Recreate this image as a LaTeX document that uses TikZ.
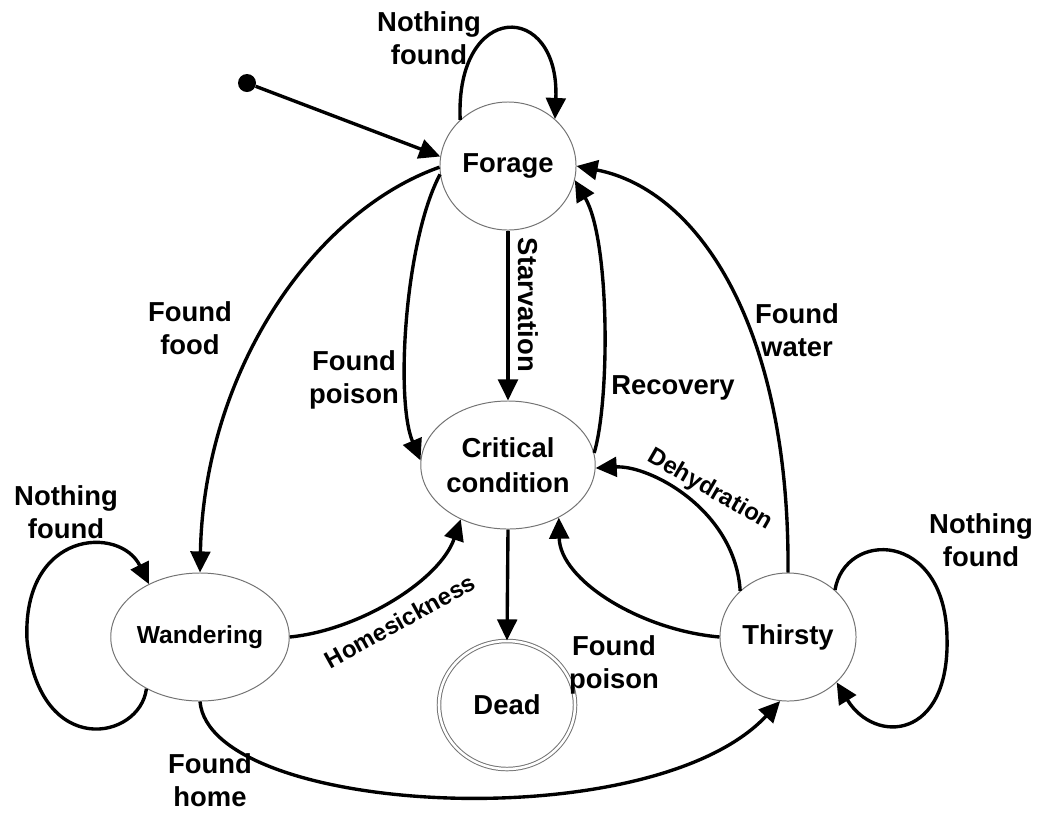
\documentclass[tikz,border=0pt]{standalone}
\usepackage{fontspec}
\setmainfont{Liberation Sans}
\usetikzlibrary{arrows.meta,shapes.geometric}
\begin{document}
\begin{tikzpicture}[x=0.025cm,y=-0.025cm,
  state/.style={ellipse,draw=black!55,line width=0.7pt,minimum width=3.4cm,minimum height=3.2cm,inner sep=0pt,align=center,font=\fontsize{19.5}{25}\selectfont\bfseries},
  arr/.style={line width=2.4pt,-{Triangle[length=15pt,width=14pt]}},
  lbl/.style={align=center,inner sep=0pt,font=\fontsize{19.5}{23.5}\selectfont\bfseries},
  slbl/.style={inner sep=0pt,font=\fontsize{17}{20}\selectfont\bfseries},
  ]
\useasboundingbox (0,0) rectangle (1039,812);

% states
\node[state] (forage) at (508,166) {Forage};
\node[state] (crit) at (508,465) {Critical\\condition};
\node[state,font=\fontsize{17.5}{21}\selectfont\bfseries] (wand) at (200,637) {Wandering};
\node[state,double,double distance=1.8pt] (dead) at (507,705) {Dead};
\node[state] (thirsty) at (788,637) {Thirsty};
\node[circle,fill=black,inner sep=0pt,minimum size=0.45cm] (init) at (247,83) {};

% transitions
\draw[arr] (init) -- (forage.172);
\draw[arr] (forage.136) .. controls (455,0) and (560,0) .. (forage.45);
\draw[arr] (forage.181) .. controls (313,212) and (204,372) .. (wand.north);
\draw[arr] (forage.187) .. controls (405,240) and (395,400) .. (crit.177);
\draw[arr] (forage.south) -- (crit.north);
\draw[arr] (crit.8) .. controls (610,400) and (610,240) .. (forage.-12);
\draw[arr] (thirsty.north) .. controls (790,330) and (700,190) .. (forage.0);
\draw[arr] (thirsty.136) .. controls (735,510) and (650,465) .. (crit.-2);
\draw[arr] (thirsty.west) .. controls (640,630) and (560,580) .. (crit.-46);
\draw[arr] (crit.south) -- (dead.north);
\draw[arr] (wand.east) .. controls (360,630) and (440,580) .. (crit.-131);
\draw[arr] (wand.224) .. controls (140,740) and (40,760) .. (27,640)
                      .. controls (22,530) and (120,525) .. (wand.134);
\draw[arr] (thirsty.45) .. controls (845,530) and (945,530) .. (947,637)
                        .. controls (950,740) and (875,745) .. (thirsty.-43);
\draw[arr] (wand.south) .. controls (210,815) and (650,840) .. (thirsty.-97);

% labels
\node[lbl] (l1) at (429,38) {Nothing\\found};
\node[lbl] (l2) at (190,328) {Found\\food};
\node[lbl] (l3) at (354,380) {Found\\poison};
\node[lbl,rotate=-90] (l4) at (528,305) {Starvation};
\node[lbl] (l5) at (673,388) {Recovery};
\node[lbl] (l6) at (797,330) {Found\\water};
\node[slbl,rotate=-30] (l7) at (710,490) {Dehydration};
\node[lbl] (l8) at (66,512) {Nothing\\found};
\node[slbl,rotate=29] (l9) at (400,621) {Homesickness};
\node[lbl] (l10) at (614,665) {Found\\poison};
\node[lbl] (l11) at (981,540) {Nothing\\found};
\node[lbl] (l12) at (210,780) {Found\\home};
\end{tikzpicture}
\end{document}
